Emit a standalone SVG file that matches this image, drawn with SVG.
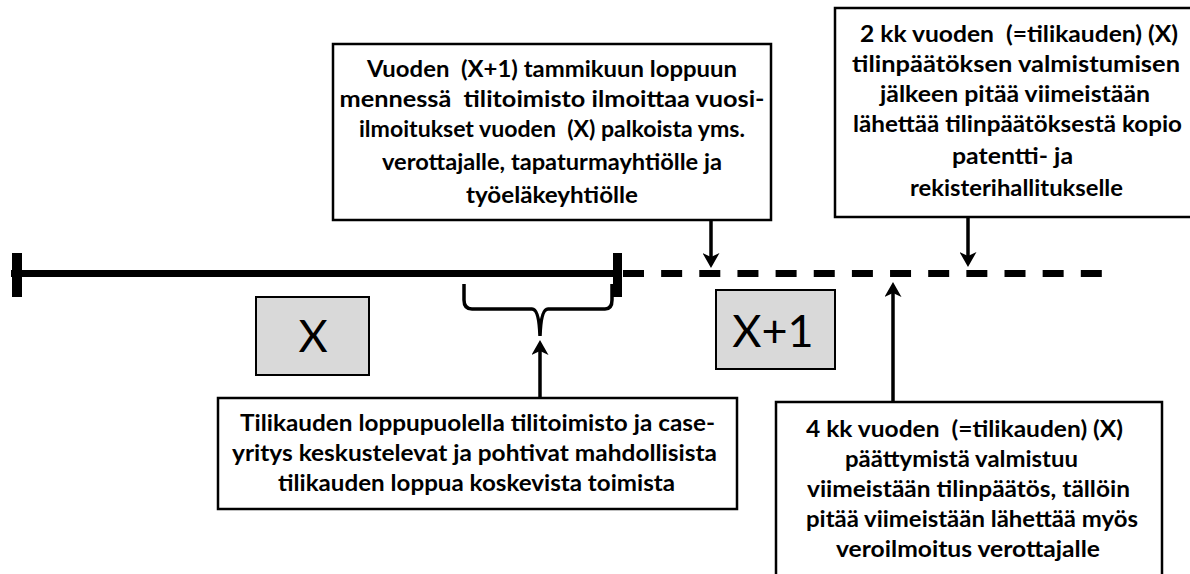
<svg xmlns="http://www.w3.org/2000/svg" width="1190" height="574" viewBox="0 0 1190 574" xml:space="preserve">
<defs>
<style>
.box{fill:#fff;stroke:#000;stroke-width:2.5}
.period{fill:#d9d9d9;stroke:#000;stroke-width:2}
.t{font-family:Lato,"Open Sans","Liberation Sans",sans-serif;font-weight:700;font-size:23px;fill:#000;white-space:pre}
.big{font-family:Lato,"Liberation Sans",sans-serif;font-weight:400;font-size:45px;fill:#000;text-anchor:middle}
.arrow{stroke:#000;stroke-width:3.5;fill:none;marker-end:url(#ah)}
.axis{stroke:#000;stroke-width:7;fill:none}
</style>
<marker id="ah" viewBox="0 0 15 17" refX="9" refY="8.5" markerWidth="15" markerHeight="17" orient="auto" markerUnits="userSpaceOnUse"><path d="M0,0 L15,8.5 L0,17 L4,8.5 Z" fill="#000"/></marker>
</defs>
<rect width="1190" height="574" fill="#fff"/>
<g id="timeline">
<line class="axis" x1="11" y1="273.5" x2="618" y2="273.5"/>
<rect x="12" y="253" width="10" height="44" fill="#000"/>
<rect x="613" y="253" width="9" height="44" fill="#000"/>
<line class="axis" x1="623" y1="273.5" x2="1102" y2="273.5" stroke-dasharray="21 17.15"/>
</g>
<g id="period-x">
<rect class="period" x="256" y="297" width="113" height="78"/>
<text class="big" x="313" y="352">X</text>
</g>
<g id="period-x1">
<rect class="period" x="716" y="290" width="119" height="79"/>
<text class="big" x="773" y="347">X+1</text>
</g>
<g id="box-january">
<rect class="box" x="333" y="44" width="438" height="176"/>
<text class="t" x="367" y="77" textLength="370" lengthAdjust="spacingAndGlyphs">Vuoden  (X+1) tammikuun loppuun</text>
<text class="t" x="339.5" y="107" textLength="425" lengthAdjust="spacingAndGlyphs">mennessä  tilitoimisto ilmoittaa vuosi-</text>
<text class="t" x="359" y="137" textLength="386" lengthAdjust="spacingAndGlyphs">ilmoitukset vuoden  (X) palkoista yms.</text>
<text class="t" x="382" y="170" textLength="340" lengthAdjust="spacingAndGlyphs">verottajalle, tapaturmayhtiölle ja</text>
<text class="t" x="466" y="203" textLength="172" lengthAdjust="spacingAndGlyphs">työeläkeyhtiölle</text>
</g>
<g id="box-prh">
<rect class="box" x="835" y="8" width="365" height="209"/>
<text class="t" x="860" y="42" textLength="318" lengthAdjust="spacingAndGlyphs">2 kk vuoden  (=tilikauden) (X)</text>
<text class="t" x="852" y="72" textLength="328" lengthAdjust="spacingAndGlyphs">tilinpäätöksen valmistumisen</text>
<text class="t" x="880" y="102" textLength="270" lengthAdjust="spacingAndGlyphs">jälkeen pitää viimeistään</text>
<text class="t" x="853" y="132" textLength="329" lengthAdjust="spacingAndGlyphs">lähettää tilinpäätöksestä kopio</text>
<text class="t" x="952" y="164" textLength="121" lengthAdjust="spacingAndGlyphs">patentti- ja</text>
<text class="t" x="910" y="196" textLength="213" lengthAdjust="spacingAndGlyphs">rekisterihallitukselle</text>
</g>
<g id="box-yearend">
<rect class="box" x="218" y="398" width="519" height="111"/>
<text class="t" x="240" y="431" textLength="475" lengthAdjust="spacingAndGlyphs">Tilikauden loppupuolella tilitoimisto ja case-</text>
<text class="t" x="232" y="461" textLength="485" lengthAdjust="spacingAndGlyphs">yritys keskustelevat ja pohtivat mahdollisista</text>
<text class="t" x="278" y="491" textLength="397" lengthAdjust="spacingAndGlyphs">tilikauden loppua koskevista toimista</text>
</g>
<g id="box-tax">
<rect class="box" x="776" y="402" width="386" height="180"/>
<text class="t" x="806" y="437" textLength="317" lengthAdjust="spacingAndGlyphs">4 kk vuoden  (=tilikauden) (X)</text>
<text class="t" x="845" y="467" textLength="233" lengthAdjust="spacingAndGlyphs">päättymistä valmistuu</text>
<text class="t" x="807" y="497" textLength="323" lengthAdjust="spacingAndGlyphs">viimeistään tilinpäätös, tällöin</text>
<text class="t" x="806" y="527" textLength="332" lengthAdjust="spacingAndGlyphs">pitää viimeistään lähettää myös</text>
<text class="t" x="836" y="557" textLength="264" lengthAdjust="spacingAndGlyphs">veroilmoitus verottajalle</text>
</g>
<g id="connectors">
<path d="M464 284 L464 300 Q464 309 472 309 L532 309 Q539 309 540 336 Q541 309 548 309 L605 309 Q612 309 612 300 L612 284" fill="none" stroke="#000" stroke-width="3.5"/>
<path class="arrow" d="M711 220 V262"/>
<path class="arrow" d="M968 217 V261"/>
<path class="arrow" d="M893 402 V288"/>
<path class="arrow" d="M540 398 V346"/>
</g>
</svg>
